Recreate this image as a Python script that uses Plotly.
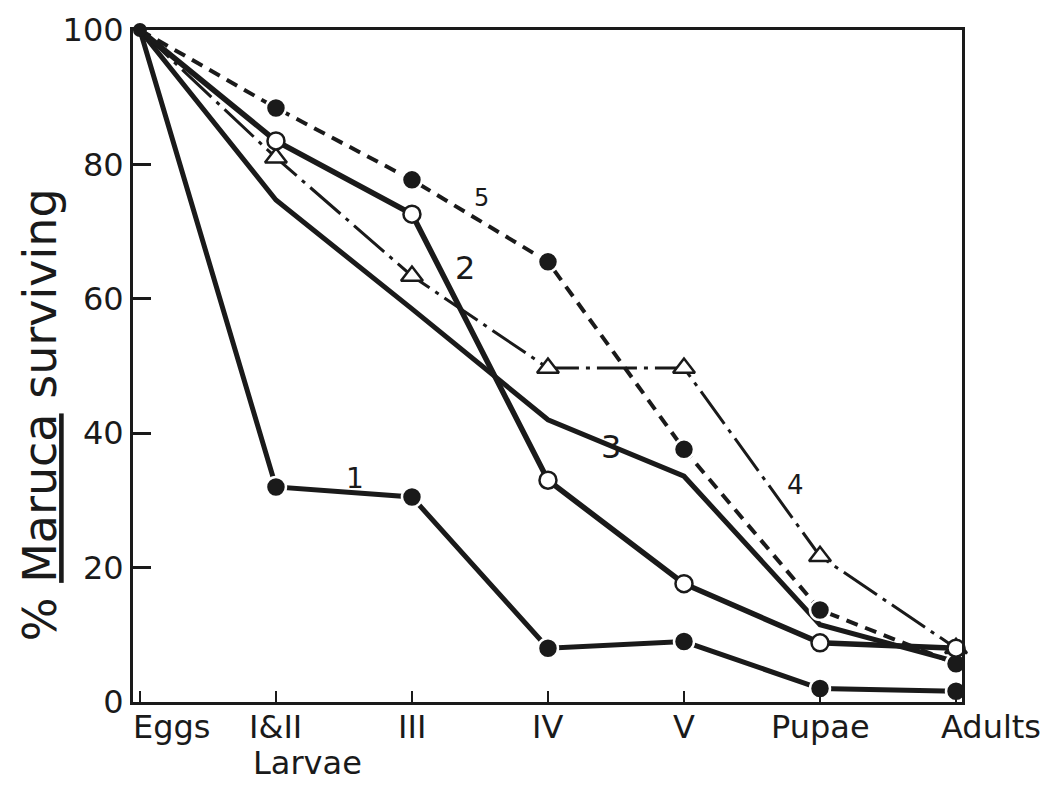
import plotly.graph_objects as go

stages = ["Eggs", "I&II", "III", "IV", "V", "Pupae", "Adults"]
xpos = [0, 1, 2, 3, 4, 5, 6]

s1 = [100, 32, 30.5, 8, 9, 2, 1.6]
s2 = [100, 83.5, 72.6, 33, 17.6, 8.8, 8]
s3 = [100, 74.7, 58.5, 42, 33.6, 11.5, 6]
s4 = [100, 81, 63.4, 49.7, 49.7, 21.7, 8]
s5 = [100, 88.4, 77.7, 65.5, 37.6, 13.7, 5.7]

labels = ["1", "2", "3", "4", "5"]
label_x = [1.58, 2.39, 3.46, 4.82, 2.51]
label_y = [33.3, 64.6, 37.9, 32.3, 75]
label_size = [28, 32, 32, 26, 24]

FONT = "DejaVu Sans"
BLACK = "#1a1a1a"

fig = go.Figure()

def filled(size=20):
    return dict(symbol="circle", size=size, color=BLACK, line=dict(color="white", width=2.5))

def opencirc(size=17):
    return dict(symbol="circle", size=size, color="white", line=dict(color=BLACK, width=2.5))

def opentri(size=19):
    return dict(symbol="triangle-up", size=size, color="white", line=dict(color=BLACK, width=2.5))

fig.add_trace(go.Scatter(x=xpos, y=s3, mode="lines",
                         line=dict(color=BLACK, width=5), cliponaxis=False))
fig.add_trace(go.Scatter(x=xpos, y=s4, mode="lines",
                         line=dict(color=BLACK, width=3, dash="40px,7px,4px,7px"), cliponaxis=False))
fig.add_trace(go.Scatter(x=xpos, y=s5, mode="lines",
                         line=dict(color=BLACK, width=4, dash="12px,8px"), cliponaxis=False))
fig.add_trace(go.Scatter(x=xpos, y=s2, mode="lines",
                         line=dict(color=BLACK, width=5.5), cliponaxis=False))
fig.add_trace(go.Scatter(x=xpos, y=s1, mode="lines",
                         line=dict(color=BLACK, width=5), cliponaxis=False))

# markers (skip eggs point, where all lines converge)
fig.add_trace(go.Scatter(x=xpos[1:], y=s4[1:], mode="markers", marker=opentri(), cliponaxis=False))
fig.add_trace(go.Scatter(x=xpos[1:], y=s5[1:], mode="markers", marker=filled(), cliponaxis=False))
fig.add_trace(go.Scatter(x=xpos[1:], y=s2[1:], mode="markers", marker=opencirc(), cliponaxis=False))
fig.add_trace(go.Scatter(x=xpos[1:], y=s1[1:], mode="markers", marker=filled(), cliponaxis=False))
fig.add_trace(go.Scatter(x=[xpos[0]], y=[s1[0]], mode="markers",
                         marker=dict(symbol="circle", size=14, color=BLACK), cliponaxis=False))

for t, lx, ly, sz in zip(labels, label_x, label_y, label_size):
    fig.add_annotation(x=lx, y=ly, text=t, showarrow=False,
                       font=dict(family=FONT, size=sz, color=BLACK))

# x category labels
xshift = [32, 0, 0, 0, 0, 0, 35]
for s, xp, sh in zip(stages, xpos, xshift):
    fig.add_annotation(x=xp, y=0, yref="y", text=s, showarrow=False, yanchor="top",
                       xshift=sh, yshift=-4, font=dict(family=FONT, size=32, color=BLACK))
fig.add_annotation(x=1, y=0, yref="y", text="Larvae", showarrow=False, yanchor="top",
                   xshift=32, yshift=-40, font=dict(family=FONT, size=32, color=BLACK))

# y axis title
fig.add_annotation(x=-0.112, y=0.427, xref="paper", yref="paper",
                   text="% <u>Maruca</u> surviving", textangle=-90, showarrow=False,
                   xanchor="center", yanchor="middle",
                   font=dict(family=FONT, size=46, color=BLACK))

fig.update_layout(
    width=1062, height=791,
    margin=dict(l=133, r=100, t=30, b=89),
    paper_bgcolor="white", plot_bgcolor="white",
    showlegend=False,
    font=dict(family=FONT, color=BLACK),
)
fig.update_xaxes(range=[-0.051, 6.044], tickvals=xpos, ticktext=[""] * len(xpos),
                 ticks="inside", ticklen=11, tickwidth=2, tickcolor=BLACK,
                 showgrid=False, zeroline=False, showline=True, linecolor=BLACK,
                 linewidth=3, mirror=True)
fig.update_yaxes(range=[0, 100], tickvals=[0, 20, 40, 60, 80, 100],
                 ticks="inside", ticklen=18, tickwidth=2.5, tickcolor=BLACK,
                 tickfont=dict(family=FONT, size=32, color=BLACK),
                 showgrid=False, zeroline=False, showline=True, linecolor=BLACK,
                 linewidth=3, mirror=True)

fig.write_html("out.html")
